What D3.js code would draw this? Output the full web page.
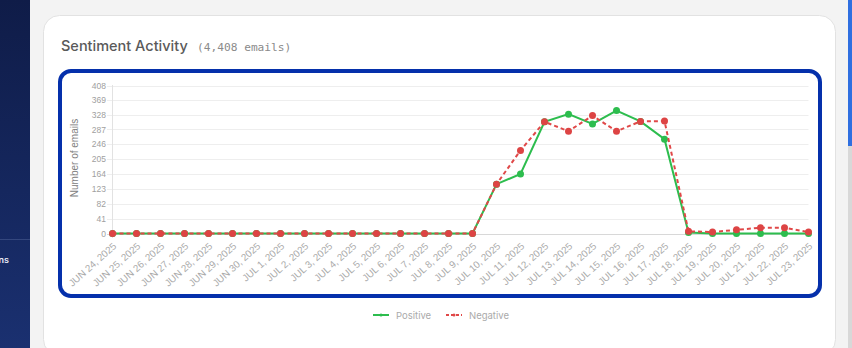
<!DOCTYPE html>
<html>
<head>
<meta charset="utf-8">
<script src="https://cdn.jsdelivr.net/npm/d3@7"></script>
<style>
  body { margin: 0; width: 852px; height: 348px; overflow: hidden; background: #f3f3f3; font-family: Inter, "Noto Sans", sans-serif; }
  svg { display: block; }
</style>
</head>
<body>
<svg id="chart" width="852" height="348"></svg>
<script>
// dates on the x axis
var dates = ["JUN 24, 2025","JUN 25, 2025","JUN 26, 2025","JUN 27, 2025","JUN 28, 2025","JUN 29, 2025","JUN 30, 2025",
  "JUL 1, 2025","JUL 2, 2025","JUL 3, 2025","JUL 4, 2025","JUL 5, 2025","JUL 6, 2025","JUL 7, 2025","JUL 8, 2025","JUL 9, 2025",
  "JUL 10, 2025","JUL 11, 2025","JUL 12, 2025","JUL 13, 2025","JUL 14, 2025","JUL 15, 2025","JUL 16, 2025","JUL 17, 2025",
  "JUL 18, 2025","JUL 19, 2025","JUL 20, 2025","JUL 21, 2025","JUL 22, 2025","JUL 23, 2025"];
var positive = [0,0,0,0,0,0,0,0,0,0,0,0,0,0,0,0, 136,164,308,329,302,339,309,260, 3,0,0,0,0,0];
var negative = [0,0,0,0,0,0,0,0,0,0,0,0,0,0,0,0, 136,229,308,282,325,282,309,310, 6,4,10,16,16,4];
var yTicks = [0,41,82,123,164,205,246,287,328,369,408];

var svg = d3.select("#chart");

// sidebar
var grad = svg.append("defs").append("linearGradient")
    .attr("id","side").attr("x1",0).attr("y1",0).attr("x2",0).attr("y2",1);
grad.append("stop").attr("offset","0%").attr("stop-color","#0f1c48");
grad.append("stop").attr("offset","100%").attr("stop-color","#1a3070");
svg.append("rect").attr("x",0).attr("y",0).attr("width",30).attr("height",348).attr("fill","url(#side)");
svg.append("line").attr("x1",0).attr("x2",30).attr("y1",239.5).attr("y2",239.5).attr("stroke","#34477e");
svg.append("text").attr("x",9).attr("y",263).attr("text-anchor","end")
    .attr("fill","#e8ecf6").style("font-size","9px").style("font-weight","600").text("ns");

// scrollbar
svg.append("rect").attr("x",848).attr("y",0).attr("width",4).attr("height",348).attr("fill","#d8d8d8");
svg.append("rect").attr("x",848).attr("y",0).attr("width",4).attr("height",146).attr("fill","#2f6fe0");

// card
svg.append("rect").attr("x",43.5).attr("y",15.5).attr("width",792).attr("height",340)
    .attr("rx",16).attr("fill","#fff").attr("stroke","#e2e2e2");

svg.append("text").attr("x",61).attr("y",51)
    .attr("fill","#5a5a5a").style("font-size","14.5px").style("font-weight","500")
    .text("Sentiment Activity");
svg.append("text").attr("x",197).attr("y",51)
    .attr("fill","#8a8a8a").style("font-size","11.2px").style("font-family","'DejaVu Sans Mono', monospace")
    .text("(4,408 emails)");

// highlight frame
svg.append("rect").attr("x",60).attr("y",71).attr("width",760).attr("height",225)
    .attr("rx",11).attr("fill","none").attr("stroke","#0530ab").attr("stroke-width",4);

var x = d3.scalePoint().domain(dates).range([112.5, 808.5]);
var y = d3.scaleLinear().domain([0, 408]).range([233.5, 85.5]);

// grid
svg.append("g").selectAll("line").data(yTicks).join("line")
    .attr("x1",107).attr("x2",808.5)
    .attr("y1", function(d){ return Math.round(y(d)) + 0.5; })
    .attr("y2", function(d){ return Math.round(y(d)) + 0.5; })
    .attr("stroke", function(d){ return d === 0 ? "#d8d8d8" : "#eeeeee"; });
svg.append("line").attr("x1",112.5).attr("x2",112.5).attr("y1",85).attr("y2",238)
    .attr("stroke","#e2e2e2");

// y axis
var yAxis = d3.axisLeft(y).tickValues(yTicks).tickSize(0).tickPadding(0);
var gy = svg.append("g").attr("transform","translate(106,0)").call(yAxis);
gy.select(".domain").remove();
gy.selectAll("text").attr("fill","#a0a0a0").style("font-size","8.5px").style("font-family","Arial, 'Liberation Sans', sans-serif");

svg.append("text").attr("transform","translate(78,158) rotate(-90)")
    .attr("text-anchor","middle").attr("fill","#808080")
    .style("font-size","10px").style("font-family","Arial, 'Liberation Sans', sans-serif")
    .text("Number of emails");

// x axis
var xAxis = d3.axisBottom(x).tickSize(0).tickPadding(0);
var gx = svg.append("g").attr("transform","translate(0,238)").call(xAxis);
gx.select(".domain").remove();
gx.selectAll("text")
    .attr("text-anchor","end")
    .attr("dy",0)
    .attr("transform","translate(4,9) rotate(-42)")
    .attr("fill","#aaa").style("font-size","9.8px").style("font-family","Arial, 'Liberation Sans', sans-serif");

// lines
var line = d3.line().x(function(d,i){ return x(dates[i]); }).y(function(d){ return y(d); });

svg.append("path").datum(positive).attr("d",line)
    .attr("fill","none").attr("stroke","#2dbd4e").attr("stroke-width",2);
svg.append("g").selectAll("circle").data(positive).join("circle")
    .attr("cx",function(d,i){ return x(dates[i]); }).attr("cy",function(d){ return y(d); })
    .attr("r",3.5).attr("fill","#2dbd4e");

svg.append("path").datum(negative).attr("d",line)
    .attr("fill","none").attr("stroke","#e04848").attr("stroke-width",2).attr("stroke-dasharray","4,3");
svg.append("g").selectAll("circle").data(negative).join("circle")
    .attr("cx",function(d,i){ return x(dates[i]); }).attr("cy",function(d){ return y(d); })
    .attr("r",3.5).attr("fill","#dd4444");

// legend
var legend = [{name:"Positive", color:"#2dbd4e", dash:null, x:373},
              {name:"Negative", color:"#e04848", dash:"3,2", x:446}];
var lg = svg.append("g").selectAll("g").data(legend).join("g")
    .attr("transform",function(d){ return "translate(" + d.x + ",315)"; });
lg.append("line").attr("x1",0).attr("x2",16).attr("y1",0).attr("y2",0)
    .attr("stroke",function(d){ return d.color; }).attr("stroke-width",2)
    .attr("stroke-dasharray",function(d){ return d.dash; });
lg.append("circle").attr("cx",8).attr("cy",0).attr("r",1.5).attr("fill",function(d){ return d.color; });
lg.append("text").attr("x",23).attr("y",3.5).attr("fill","#aaa")
    .style("font-size","9.5px").style("font-family","Inter, 'Noto Sans', sans-serif")
    .text(function(d){ return d.name; });
</script>
</body>
</html>
